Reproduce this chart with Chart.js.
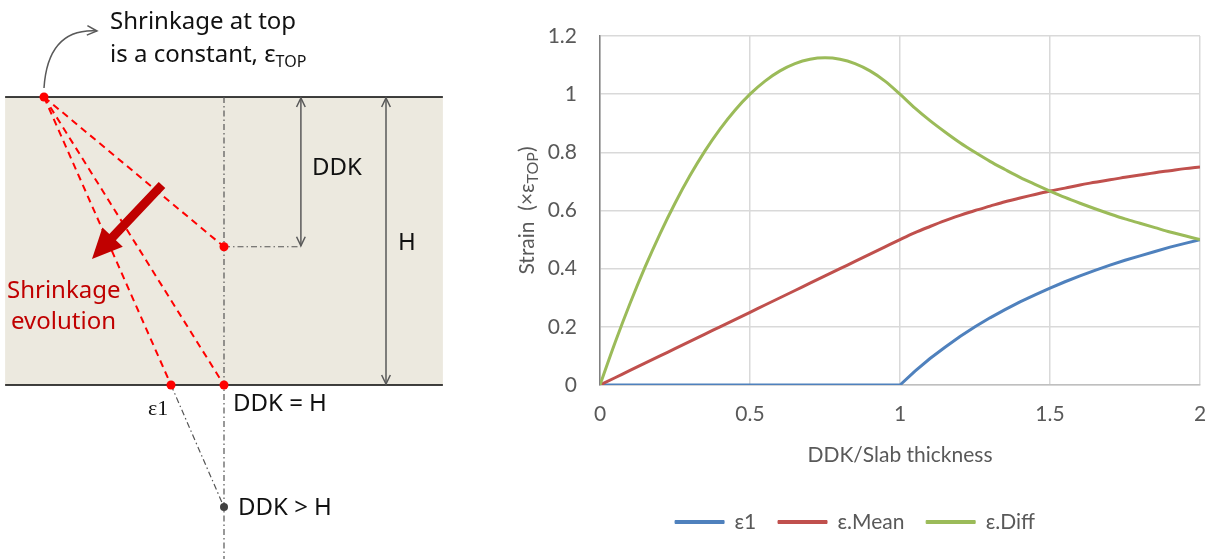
<!DOCTYPE html>
<html><head><meta charset="utf-8">
<script src="https://cdn.jsdelivr.net/npm/chart.js@4.4.1/dist/chart.umd.min.js"></script>
<style>
html,body{margin:0;padding:0;background:#fff;width:1207px;height:559px;overflow:hidden}
#diagram{position:absolute;left:0;top:0}
#chart{position:absolute;left:510px;top:0}
</style></head><body>
<canvas id="diagram" width="460" height="559"></canvas>
<canvas id="chart" width="697" height="559"></canvas>
<script>
// ---------- chart data ----------
const xValues = [0,0.05,0.1,0.15,0.2,0.25,0.3,0.35,0.4,0.45,0.5,0.55,0.6,0.65,0.7,0.75,0.8,0.85,0.9,0.95,1,1.05,1.1,1.15,1.2,1.25,1.3,1.35,1.4,1.45,1.5,1.55,1.6,1.65,1.7,1.75,1.8,1.85,1.9,1.95,2];
const eps1 = [0,0,0,0,0,0,0,0,0,0,0,0,0,0,0,0,0,0,0,0,0,0.048,0.091,0.130,0.167,0.200,0.231,0.259,0.286,0.310,0.333,0.355,0.375,0.394,0.412,0.429,0.444,0.459,0.474,0.487,0.500];
const epsMean = [0,0.025,0.05,0.075,0.1,0.125,0.15,0.175,0.2,0.225,0.25,0.275,0.3,0.325,0.35,0.375,0.4,0.425,0.45,0.475,0.5,0.524,0.545,0.565,0.583,0.6,0.615,0.630,0.643,0.655,0.667,0.677,0.688,0.697,0.706,0.714,0.722,0.730,0.737,0.744,0.75];
const epsDiff = [0,0.145,0.28,0.405,0.52,0.625,0.72,0.805,0.88,0.945,1,1.045,1.08,1.105,1.12,1.125,1.12,1.105,1.08,1.045,1,0.952,0.909,0.870,0.833,0.8,0.769,0.741,0.714,0.690,0.667,0.645,0.625,0.606,0.588,0.571,0.556,0.541,0.526,0.513,0.5];
const seriesNames = ['ε1','ε.Mean','ε.Diff'];
const xTicksStep = 0.5;
const yTicksStep = 0.2;
const xTitle = 'DDK/Slab thickness';
const yTitleMain = 'Strain  (×ε';
const yTitleSub = 'TOP';

// ---------- diagram geometry (in slab-thickness units, depth downward) ----------
const slabX = [-0.135, 1.385];
const topPoint = {x:0, y:0};
const ddkX = 0.625;
const ddkDepths = [0.52, 1.0, 1.424];
const eps1Point = {x:0.441, y:1};
const dimDDKx = 0.892;
const dimHx = 1.1875;

const GRAY = '#595959';
const FONT_CHART = 'Lato';
const FS = 21;

// ---------- line chart ----------
const mk = arr => xValues.map((x,i)=>({x, y: arr[i]}));
const colors = ['#4F81BD','#C0504D','#9BBB59'];
const fmt = v => String(Math.round(v*100)/100);

const titlePlugin = {
  id:'axisTitles',
  afterDraw(chart){
    const {ctx, chartArea:a} = chart;
    ctx.save();
    ctx.fillStyle = GRAY;
    ctx.textBaseline = 'middle';
    ctx.textAlign = 'center';
    ctx.font = `${FS}px ${FONT_CHART}`;
    ctx.fillText(xTitle, (a.left+a.right)/2, a.bottom + 70);
    ctx.translate(a.left - 73, (a.top+a.bottom)/2);
    ctx.rotate(-Math.PI/2);
    ctx.textAlign = 'left';
    const w1 = ctx.measureText(yTitleMain).width;
    const w3 = ctx.measureText(')').width;
    ctx.font = `16px ${FONT_CHART}`;
    const w2 = ctx.measureText(yTitleSub).width;
    let sx = -(w1+w2+w3)/2;
    ctx.font = `${FS}px ${FONT_CHART}`;
    ctx.fillText(yTitleMain, sx, 0);
    ctx.font = `16px ${FONT_CHART}`;
    ctx.fillText(yTitleSub, sx+w1, 6);
    ctx.font = `${FS}px ${FONT_CHART}`;
    ctx.fillText(')', sx+w1+w2, 0);
    ctx.restore();
  }
};

new Chart(document.getElementById('chart'), {
  type:'line',
  data:{
    datasets:[
      {label:seriesNames[0], data:mk(eps1), borderColor:colors[0], backgroundColor:colors[0], borderWidth:3, pointRadius:0, tension:0, order:2},
      {label:seriesNames[1], data:mk(epsMean), borderColor:colors[1], backgroundColor:colors[1], borderWidth:3, pointRadius:0, cubicInterpolationMode:'monotone', order:1},
      {label:seriesNames[2], data:mk(epsDiff), borderColor:colors[2], backgroundColor:colors[2], borderWidth:3, pointRadius:0, cubicInterpolationMode:'monotone', order:0}
    ]
  },
  options:{
    responsive:false, animation:false,
    layout:{padding:{top:36,right:7,left:0,bottom:16.5}},
    plugins:{
      legend:{position:'bottom',
        labels:{boxWidth:49, boxHeight:3, padding:21.75, color:GRAY, font:{family:FONT_CHART,size:FS},
          sort:(a,b)=>a.datasetIndex-b.datasetIndex,
          generateLabels: chart => Chart.defaults.plugins.legend.labels.generateLabels(chart).map(l=>({...l, lineWidth:1}))}},
      tooltip:{enabled:false}
    },
    scales:{
      x:{type:'linear', min:0, max:2,
        ticks:{stepSize:xTicksStep, padding:17, color:GRAY, font:{family:FONT_CHART,size:FS}, maxRotation:0, callback:fmt},
        grid:{color:'#D9D9D9', lineWidth:1.5, drawTicks:false},
        border:{color:'#BFBFBF', width:1.5},
        afterFit:s=>{s.height=104.75; s.paddingRight=0; s.paddingLeft=0;}},
      y:{min:0, max:1.2,
        ticks:{stepSize:yTicksStep, padding:23, color:GRAY, font:{family:FONT_CHART,size:FS}, callback:fmt},
        grid:{color:'#D9D9D9', lineWidth:1.5, drawTicks:false},
        border:{color:'#808080', width:1.5},
        afterFit:s=>{s.width=90; s.paddingTop=0; s.paddingBottom=0;}}
    }
  },
  plugins:[titlePlugin]
});

// ---------- diagram ----------
function openHead(ctx, x, y, ang, len){
  ctx.beginPath();
  ctx.moveTo(x - len*Math.cos(ang-0.45), y - len*Math.sin(ang-0.45));
  ctx.lineTo(x, y);
  ctx.lineTo(x - len*Math.cos(ang+0.45), y - len*Math.sin(ang+0.45));
  ctx.stroke();
}
function bigArrow(ctx,x1,y1,x2,y2,shaftW,headL,headW,color){
  const dx=x2-x1, dy=y2-y1, L=Math.hypot(dx,dy), ux=dx/L, uy=dy/L, nx=-uy, ny=ux;
  const bx=x2-ux*headL, by=y2-uy*headL;
  ctx.fillStyle=color; ctx.beginPath();
  ctx.moveTo(x1+nx*shaftW/2, y1+ny*shaftW/2);
  ctx.lineTo(bx+nx*shaftW/2, by+ny*shaftW/2);
  ctx.lineTo(bx+nx*headW/2, by+ny*headW/2);
  ctx.lineTo(x2,y2);
  ctx.lineTo(bx-nx*headW/2, by-ny*headW/2);
  ctx.lineTo(bx-nx*shaftW/2, by-ny*shaftW/2);
  ctx.lineTo(x1-nx*shaftW/2, y1-ny*shaftW/2);
  ctx.closePath(); ctx.fill();
}

const FONT_D = '"Noto Sans"';
const diagramPlugin = {
  id:'diagramDecor',
  beforeDatasetsDraw(chart){
    const {ctx, scales:{x,y}} = chart;
    const X=v=>x.getPixelForValue(v), Y=v=>y.getPixelForValue(v);
    ctx.save();
    ctx.fillStyle='#ECE9DF';
    ctx.fillRect(X(slabX[0]), Y(0), X(slabX[1])-X(slabX[0]), Y(1)-Y(0));
    ctx.strokeStyle='#000'; ctx.lineWidth=1.5;
    [0,1].forEach(z=>{ctx.beginPath(); ctx.moveTo(X(slabX[0]),Y(z)); ctx.lineTo(X(slabX[1]),Y(z)); ctx.stroke();});
    ctx.restore();
  },
  afterDatasetsDraw(chart){
    const {ctx, scales:{x,y}} = chart;
    const X=v=>x.getPixelForValue(v), Y=v=>y.getPixelForValue(v);
    ctx.save();
    ctx.strokeStyle=GRAY; ctx.lineWidth=1.5;
    [[dimDDKx, ddkDepths[0]],[dimHx, 1]].forEach(([dx,dz])=>{
      ctx.beginPath(); ctx.moveTo(X(dx),Y(0)+1); ctx.lineTo(X(dx),Y(dz)-1); ctx.stroke();
      openHead(ctx, X(dx), Y(0)+1, -Math.PI/2, 10);
      openHead(ctx, X(dx), Y(dz)-1, Math.PI/2, 10);
    });
    // curved arrow
    ctx.beginPath();
    const sx=X(topPoint.x), sy=Y(topPoint.y)-9;
    ctx.moveTo(sx, sy);
    ctx.quadraticCurveTo(sx+4, sy-60, 97, 31);
    ctx.stroke();
    openHead(ctx, 97, 31, Math.atan2(31-(sy-60), 97-(sx+4)), 11);
    // big red arrow
    bigArrow(ctx, 162,185, 92,259, 9, 30, 28, '#C00000');
    // texts
    ctx.textBaseline='alphabetic'; ctx.textAlign='left';
    ctx.fillStyle='#111';
    ctx.font=`24px ${FONT_D}`;
    ctx.fillText('Shrinkage at top', 110, 29);
    const l2='is a constant, ε';
    ctx.fillText(l2, 110, 62);
    const w = ctx.measureText(l2).width;
    ctx.font=`16px ${FONT_D}`;
    ctx.fillText('TOP', 110+w, 67);
    ctx.font=`24px ${FONT_D}`;
    ctx.fillText('DDK', 312, 175);
    ctx.fillText('H', 398, 250);
    ctx.fillText('DDK = H', 233, 411);
    ctx.fillText('DDK > H', 238, 515);
    ctx.font='22px "Liberation Serif"';
    ctx.fillText('ε1', 148, 415);
    ctx.fillStyle='#C00000';
    ctx.font=`24px ${FONT_D}`;
    ctx.fillText('Shrinkage', 7, 298);
    ctx.fillText('evolution', 11, 329);
    ctx.restore();
  }
};

const seg = (a,b)=>[a,b];
const redDash = {borderColor:'#FF0000', borderWidth:2, borderDash:[7,5], pointRadius:0, showLine:true};
const dashDot = {borderColor:'#555555', borderWidth:1.2, borderDash:[6,3,1.5,3], pointRadius:0, showLine:true};

new Chart(document.getElementById('diagram'), {
  type:'scatter',
  data:{datasets:[
    {data:[topPoint, {x:ddkX,y:ddkDepths[0]}, {x:ddkX,y:ddkDepths[1]}, eps1Point], pointRadius:4.5, pointBackgroundColor:'#FF0000', pointBorderWidth:0, showLine:false},
    {data:[{x:ddkX,y:ddkDepths[2]}], pointRadius:4, pointBackgroundColor:'#404040', pointBorderWidth:0, showLine:false},
    {data:seg(topPoint,{x:ddkX,y:ddkDepths[0]}), ...redDash},
    {data:seg(topPoint,{x:ddkX,y:ddkDepths[1]}), ...redDash},
    {data:seg(topPoint,eps1Point), ...redDash},
    {data:seg(eps1Point,{x:ddkX,y:ddkDepths[2]}), ...dashDot},
    {data:seg({x:ddkX,y:0},{x:ddkX,y:1.61}), ...dashDot},
    {data:seg({x:ddkX,y:ddkDepths[0]},{x:dimDDKx,y:ddkDepths[0]}), ...dashDot}
  ]},
  options:{
    responsive:false, animation:false,
    layout:{padding:0, autoPadding:false},
    plugins:{legend:{display:false}, tooltip:{enabled:false}},
    scales:{
      x:{display:false, type:'linear', min:-44/288, max:416/288},
      y:{display:false, type:'linear', min:-97/288, max:462/288, reverse:true}
    }
  },
  plugins:[diagramPlugin]
});
</script></body></html>
